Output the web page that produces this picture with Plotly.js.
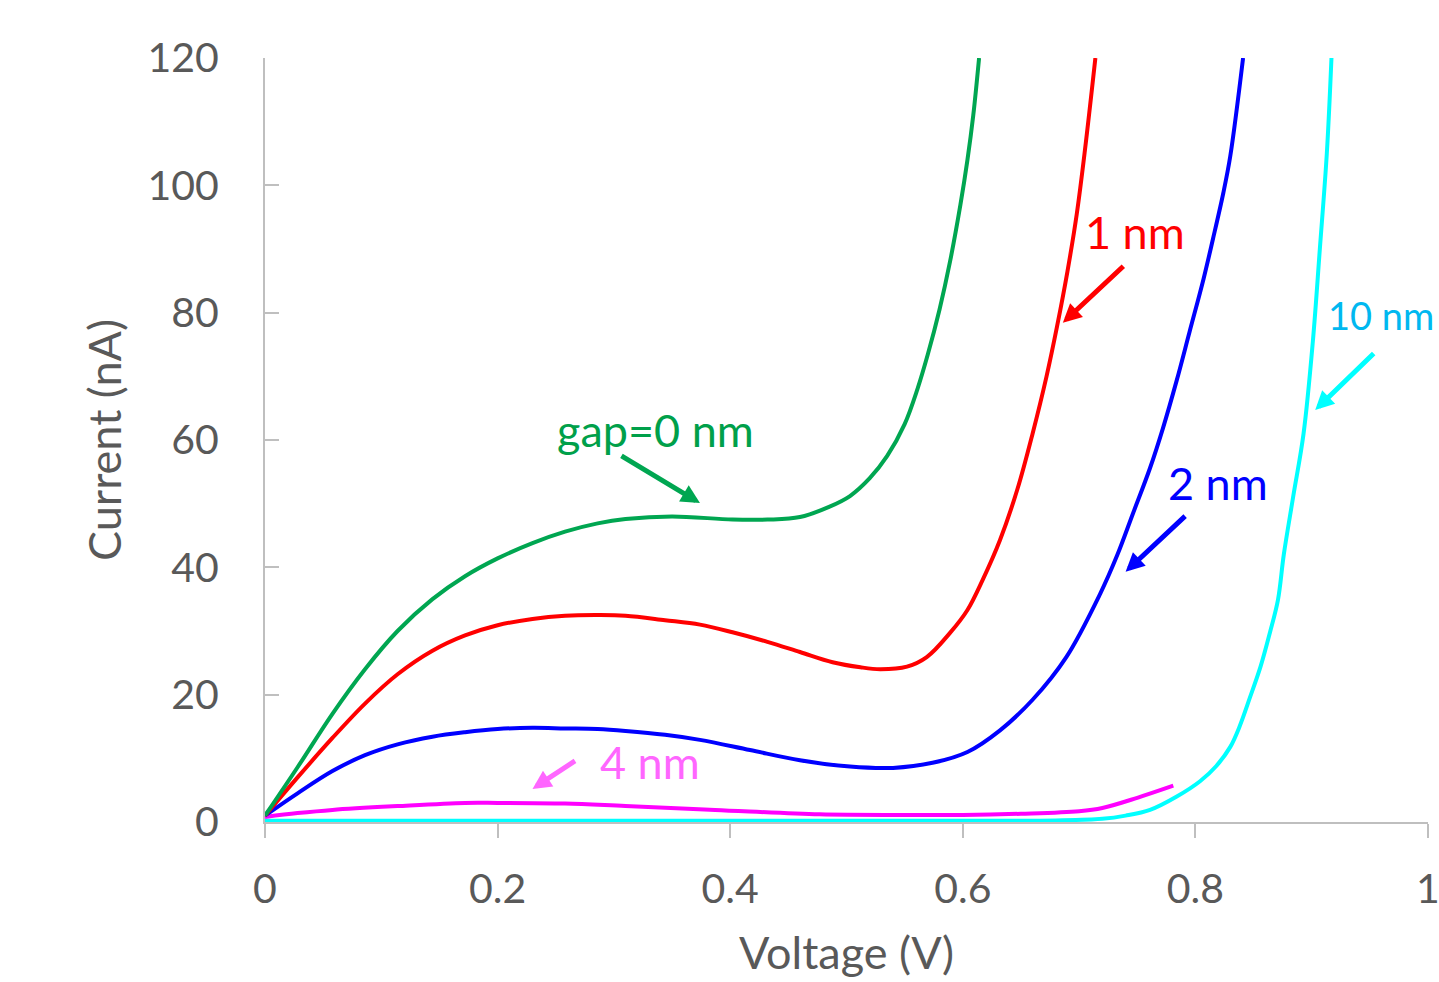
<!DOCTYPE html>
<html>
<head>
<meta charset="utf-8">
<script src="https://cdn.plot.ly/plotly-3.0.1.min.js"></script>
<style>html,body{margin:0;padding:0;background:#fff;overflow:hidden}#chart{width:1439px;height:982px}</style>
</head>
<body>
<div id="chart"></div>
<script>
// Voltage (V) / Current (nA)
const gap0_x = [0, 0.028, 0.058, 0.086, 0.114, 0.144, 0.172, 0.2, 0.23, 0.258, 0.286, 0.31, 0.35, 0.402, 0.432, 0.46, 0.485, 0.503, 0.52, 0.535, 0.55, 0.561, 0.57, 0.58, 0.589, 0.598, 0.604, 0.609, 0.614];
const gap0_y = [1, 8.6, 17.0, 24.0, 30.0, 35.0, 38.6, 41.4, 43.8, 45.6, 46.9, 47.6, 48.0, 47.5, 47.5, 47.9, 49.5, 51.2, 54.0, 57.5, 62.5, 68.0, 73.5, 80.5, 88.0, 97.0, 104.0, 111.0, 120];

const gap1_x = [0, 0.028, 0.058, 0.086, 0.114, 0.144, 0.172, 0.2, 0.23, 0.258, 0.286, 0.31, 0.344, 0.374, 0.402, 0.432, 0.46, 0.488, 0.512, 0.529, 0.552, 0.569, 0.589, 0.604, 0.617, 0.632, 0.647, 0.66, 0.672, 0.681, 0.69, 0.698, 0.705, 0.714];
const gap1_y = [1, 7.0, 13.2, 18.6, 23.2, 26.9, 29.3, 30.9, 31.9, 32.4, 32.5, 32.4, 31.7, 31.0, 29.8, 28.3, 26.7, 25.1, 24.3, 24.0, 24.4, 25.9, 29.7, 33.3, 38.0, 44.3, 52.3, 61.0, 70.0, 77.8, 86.5, 95.5, 105.5, 120];

const gap2_x = [0, 0.028, 0.058, 0.086, 0.114, 0.144, 0.172, 0.2, 0.23, 0.258, 0.286, 0.31, 0.344, 0.374, 0.417, 0.46, 0.503, 0.54, 0.574, 0.604, 0.632, 0.66, 0.689, 0.718, 0.733, 0.746, 0.761, 0.772, 0.784, 0.795, 0.807, 0.815, 0.824, 0.83, 0.841];
const gap2_y = [1, 4.5, 8.0, 10.5, 12.2, 13.4, 14.1, 14.6, 14.8, 14.7, 14.6, 14.3, 13.7, 12.9, 11.3, 9.7, 8.7, 8.5, 9.3, 11.0, 14.4, 19.2, 25.9, 35.8, 42.0, 48.3, 55.6, 61.8, 69.4, 77.0, 85.3, 91.5, 98.8, 104.6, 120];

const gap4_x = [0, 0.028, 0.058, 0.114, 0.172, 0.2, 0.258, 0.31, 0.387, 0.477, 0.55, 0.6, 0.65, 0.7, 0.72, 0.75, 0.781];
const gap4_y = [0.8, 1.4, 1.9, 2.5, 3.0, 3.0, 2.9, 2.5, 1.9, 1.2, 1.1, 1.1, 1.3, 1.7, 2.2, 3.8, 5.7];

const gap10_x = [0, 0.2, 0.4, 0.6, 0.68, 0.72, 0.74, 0.761, 0.784, 0.804, 0.818, 0.83, 0.838, 0.847, 0.856, 0.864, 0.871, 0.876, 0.884, 0.893, 0.901, 0.907, 0.913, 0.917];
const gap10_y = [0.2, 0.2, 0.2, 0.2, 0.25, 0.5, 1.0, 1.9, 4.0, 6.4, 8.8, 11.8, 15.0, 19.6, 24.4, 29.7, 34.9, 42.0, 51.0, 61.0, 75.5, 90.0, 105.0, 120];

const xTicks = [0, 0.2, 0.4, 0.6, 0.8, 1];
const xTickText = ['0', '0.2', '0.4', '0.6', '0.8', '1'];
const yTicks = [0, 20, 40, 60, 80, 100, 120];

const labels = ['gap=0 nm', '1 nm', '2 nm', '4 nm', '10 nm'];

const FONT = 'Lato, "Open Sans", sans-serif';
const GREY = '#595959';

function tr(x, y, color) {
  return {x: x, y: y, type: 'scatter', mode: 'lines',
    line: {color: color, width: 4, shape: 'spline', smoothing: 1, simplify: false},
    hoverinfo: 'skip', showlegend: false};
}

const data = [
  tr(gap10_x, gap10_y, '#00FFFF'),
  tr(gap4_x, gap4_y, '#FF00FF'),
  tr(gap2_x, gap2_y, '#0000FF'),
  tr(gap1_x, gap1_y, '#FF0000'),
  tr(gap0_x, gap0_y, '#00A651')
];

function txt(t, x, y, color, size, xanchor) {
  return {text: t, x: x, y: y, xref: 'x', yref: 'y', showarrow: false,
    xanchor: xanchor || 'center', yanchor: 'middle',
    font: {family: FONT, size: size, color: color}};
}
function arr(x, y, ax, ay, color) {
  return {text: ' ', x: x, y: y, xref: 'x', yref: 'y', ax: ax, ay: ay,
    showarrow: true, arrowhead: 2, arrowsize: 0.75, arrowwidth: 5,
    arrowcolor: color, standoff: 0, startstandoff: 0,
    font: {size: 1}};
}

const annotations = [
  txt(labels[0], 0.336, 61.6, '#00A04A', 45),
  arr(0.374, 50.1, -80, -48, '#00A651'),
  txt(labels[1], 0.748, 92.7, '#FF0000', 45),
  arr(0.686, 78.4, 62, -58, '#FF0000'),
  txt(labels[2], 0.819, 53.2, '#0000FF', 45),
  arr(0.740, 39.3, 61, -57, '#0000FF'),
  txt(labels[3], 0.331, 9.4, '#FF66FF', 45),
  arr(0.230, 5.2, 44, -29, '#FF66FF'),
  txt(labels[4], 0.912, 79.6, '#00B8F0', 38, 'left'),
  arr(0.903, 64.7, 60, -58, '#00FFFF')
];

const layout = {
  width: 1439, height: 982,
  margin: {l: 265, r: 11, t: 58, b: 160, pad: 0},
  paper_bgcolor: '#fff', plot_bgcolor: '#fff',
  showlegend: false,
  xaxis: {
    range: [0, 1], tickvals: xTicks, ticktext: xTickText,
    showgrid: false, zeroline: false,
    showline: true, linecolor: '#BFBFBF', linewidth: 2,
    ticks: 'outside', ticklen: 14, tickwidth: 2, tickcolor: '#BFBFBF',
    tickfont: {family: FONT, size: 41, color: GREY},
    ticklabelstandoff: 16, ticklabeloverflow: 'allow',
    title: {text: 'Voltage (V)', font: {family: FONT, size: 45, color: GREY}, standoff: 26},
    fixedrange: true
  },
  yaxis: {
    range: [0, 120], tickvals: yTicks,
    showgrid: false, zeroline: false,
    showline: true, linecolor: '#BFBFBF', linewidth: 2,
    ticks: 'inside', ticklen: 14, tickwidth: 2, tickcolor: '#BFBFBF',
    tickfont: {family: FONT, size: 41, color: GREY},
    ticklabelstandoff: 36,
    title: {text: 'Current (nA)', font: {family: FONT, size: 45, color: GREY}, standoff: 12},
    fixedrange: true
  },
  annotations: annotations
};

Plotly.newPlot('chart', data, layout, {staticPlot: true, displayModeBar: false});
</script>
</body>
</html>
